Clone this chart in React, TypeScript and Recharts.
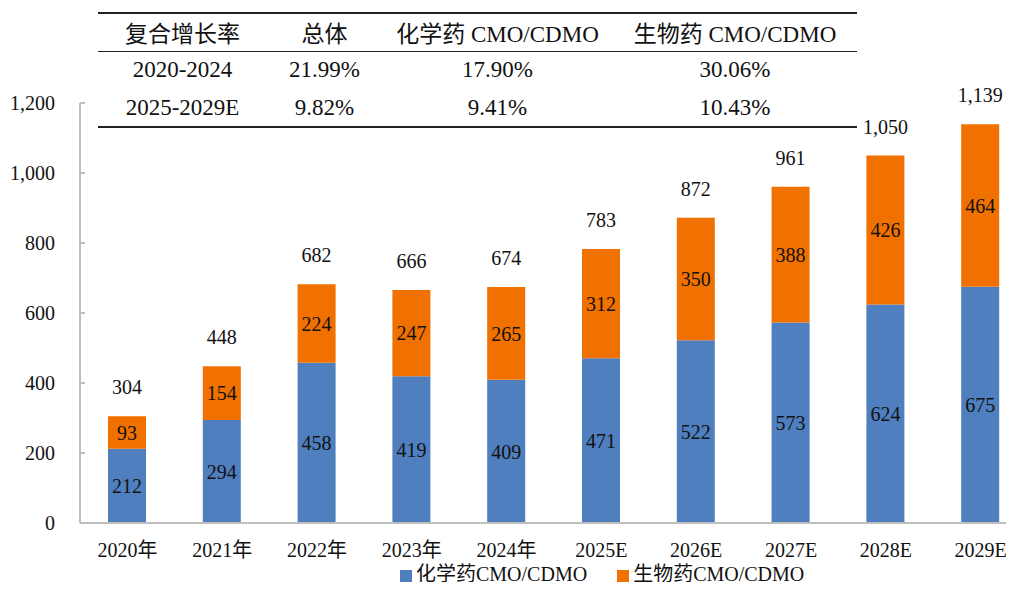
import { BarChart, Bar, XAxis, YAxis, Legend, LabelList } from "recharts";

const categories = ["2020年", "2021年", "2022年", "2023年", "2024年", "2025E", "2026E", "2027E", "2028E", "2029E"];
const chemValues = [212, 294, 458, 419, 409, 471, 522, 573, 624, 675];
const bioValues = [93, 154, 224, 247, 265, 312, 350, 388, 426, 464];
const totalValues = [304, 448, 682, 666, 674, 783, 872, 961, 1050, 1139];
const yTicks = [0, 200, 400, 600, 800, 1000, 1200];

const cagrHeaders = ["复合增长率", "总体", "化学药 CMO/CDMO", "生物药 CMO/CDMO"];
const cagrRows = [
  ["2020-2024", "21.99%", "17.90%", "30.06%"],
  ["2025-2029E", "9.82%", "9.41%", "10.43%"],
];
const colWidths = [169, 115, 231, 244];

const BLUE = "#4f7fbe";
const ORANGE = "#f07000";
const FONT = "'Liberation Serif', 'Times New Roman', 'Noto Sans CJK SC', serif";

const data = categories.map((name, i) => ({
  name,
  chem: chemValues[i],
  bio: bioValues[i],
  total: totalValues[i],
}));

const fmt = (v: any) => Number(v).toLocaleString("en-US");

function CagrTable() {
  const cell = (w: number) => ({
    width: w,
    textAlign: "center" as const,
    padding: 0,
    fontFamily: FONT,
    fontSize: 23,
    color: "#111",
  });
  return (
    <table
      style={{
        position: "absolute",
        left: 98,
        top: 12,
        width: 759,
        borderCollapse: "collapse",
        fontFamily: FONT,
        fontSize: 23,
        tableLayout: "fixed",
      }}
    >
      <tbody>
        <tr style={{ height: 38, borderTop: "2px solid #222", borderBottom: "1.5px solid #222" }}>
          {cagrHeaders.map((h, i) => (
            <td key={h} style={cell(colWidths[i])}>{h}</td>
          ))}
        </tr>
        {cagrRows.map((row, r) => (
          <tr
            key={r}
            style={{
              height: 38,
              borderBottom: r === cagrRows.length - 1 ? "2px solid #222" : undefined,
            }}
          >
            {row.map((v, i) => (
              <td key={i} style={cell(colWidths[i])}>{v}</td>
            ))}
          </tr>
        ))}
      </tbody>
    </table>
  );
}

export default function App() {
  return (
    <div
      style={{
        position: "relative",
        width: 1014,
        height: 590,
        margin: -8,
        overflow: "hidden",
        background: "#fff",
      }}
    >
      <BarChart
        width={1040}
        height={590}
        data={data}
        margin={{ top: 103, right: 12, bottom: 0, left: 0 }}
        barSize={38}
        style={{ fontFamily: FONT }}
      >
        <XAxis
          dataKey="name"
          tickLine={false}
          axisLine={{ stroke: "#bfbfbf", strokeWidth: 2 }}
          tick={{ fill: "#111", fontSize: 20 }}
          tickMargin={14}
          height={35}
          interval={0}
        />
        <YAxis
          domain={[0, 1200]}
          ticks={yTicks}
          width={80}
          tickFormatter={fmt}
          tick={{ fill: "#111", fontSize: 20 }}
          tickSize={-5}
          tickMargin={30}
          axisLine={{ stroke: "#bfbfbf", strokeWidth: 2 }}
          tickLine={{ stroke: "#bfbfbf", strokeWidth: 2 }}
        />
        <Legend
          verticalAlign="bottom"
          height={32}
          iconType="square"
          iconSize={12}
          wrapperStyle={{ left: 400, top: 562, width: "auto", fontSize: 20, color: "#111", lineHeight: "24px" }}
          formatter={(value: any) => (
            <span style={{ color: "#111", paddingRight: 20 }}>{value}</span>
          )}
        />
        <Bar dataKey="chem" name="化学药CMO/CDMO" stackId="a" fill={BLUE} isAnimationActive={false}>
          <LabelList dataKey="chem" position="center" fill="#111" fontSize={20} />
        </Bar>
        <Bar dataKey="bio" name="生物药CMO/CDMO" stackId="a" fill={ORANGE} isAnimationActive={false}>
          <LabelList dataKey="bio" position="center" fill="#111" fontSize={20} />
          <LabelList dataKey="total" position="top" offset={22} fill="#111" fontSize={20} formatter={fmt} />
        </Bar>
      </BarChart>
      <CagrTable />
    </div>
  );
}
